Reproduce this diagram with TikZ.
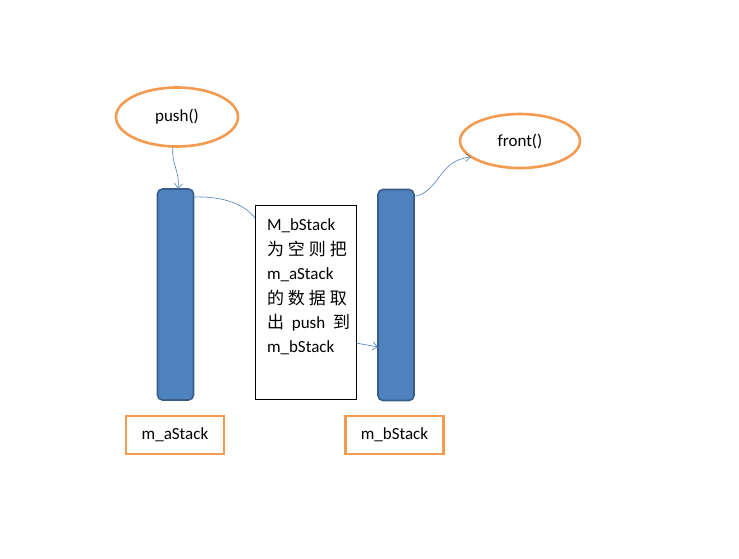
\documentclass[tikz,border=0pt]{standalone}
\usepackage{fontspec}
\setmainfont{Carlito}
\newfontfamily\cjk{Noto Sans CJK SC}
\usepackage{xcolor}
\definecolor{accorange}{RGB}{245,155,80}
\definecolor{stackblue}{RGB}{79,129,189}
\definecolor{stackedge}{RGB}{56,93,138}
\definecolor{linkblue}{RGB}{74,126,187}
\usepackage{tikz}
\usetikzlibrary{shapes.geometric}
\usetikzlibrary{positioning}
\usetikzlibrary{arrows.meta}

\begin{document}
\begin{tikzpicture}[x=1pt,y=-1pt,
  every node/.style={font=\fontsize{17}{24.4}\selectfont,inner sep=0pt,outer sep=0pt},
  call/.style={ellipse,draw=accorange,line width=2.6pt,fill=white},
  stackbar/.style={draw=stackedge,line width=1.6pt,fill=stackblue,rounded corners=5pt,minimum width=36pt,minimum height=211pt},
  namebox/.style={draw=accorange,line width=2.4pt,minimum width=98pt,minimum height=38pt},
  link/.style={draw=linkblue,line width=0.6pt},
  linkarrow/.style={link,-{Straight Barb[length=5pt,width=8pt]}}]
\useasboundingbox (0,0) rectangle (739,558);
\node[call,minimum width=122pt,minimum height=59pt] (push) at (177,117) {push()};
\node[call,minimum width=120pt,minimum height=54pt] (front) at (520,141) {front()};
\node[stackbar] (astack) at (175.5,294.5) {};
\node[stackbar] (bstack) at (396,295) {};
\node[namebox] (alabel) at (175,435) {m\_aStack};
\node[namebox] (blabel) at (394.5,435) {m\_bStack};
\node[draw=black,line width=0.8pt,minimum width=101pt,minimum height=194pt] (note) at (305.5,302) {};
\node[anchor=north west,align=left] (notetext) at ([xshift=12pt,yshift=-14pt]note.north west)
  {M\_bStack\\{\cjk 为\hspace{4pt}空\hspace{4pt}则\hspace{4pt}把}\\m\_aStack\\{\cjk 的\hspace{4pt}数\hspace{4pt}据\hspace{4pt}取}\\{\cjk 出}\hspace{4pt} push\hspace{4pt} {\cjk 到}\\m\_bStack};
% connectors
\coordinate (pushend) at (178,189);
\draw[linkarrow] ([xshift=-4pt]push.south) .. controls (171,165) and (180,170) .. (pushend);
\draw[link] ([yshift=-8pt]astack.north east) .. controls (225,196) and (245,205) .. ([yshift=-13pt]note.north west);
\draw[linkarrow] ([yshift=-41pt]note.east) -- ([yshift=-52pt]bstack.west);
\coordinate (frontend) at (471,157);
\draw[linkarrow] ([yshift=-7pt]bstack.north east) .. controls (440,192) and (438,160) .. (frontend);
\end{tikzpicture}
\end{document}
